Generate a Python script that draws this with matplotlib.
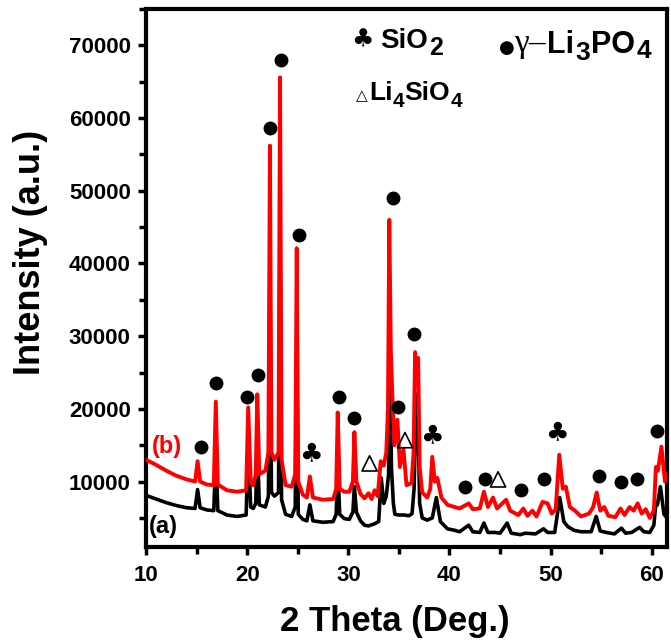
import matplotlib
matplotlib.use("Agg")
import matplotlib.pyplot as plt
from matplotlib.ticker import MultipleLocator

plt.rcParams['font.family'] = ['Liberation Sans', 'DejaVu Sans']
plt.rcParams['font.weight'] = 'bold'

# ---- data ----
theta_b = [10.0, 11.0, 12.0, 13.0, 14.0, 14.85, 15.1, 15.35, 16.0, 16.7, 16.9, 17.1, 18.0, 19.0, 19.9,
           20.1, 20.35, 20.6, 20.85, 21.0, 21.2, 21.8, 22.1, 22.25, 22.4, 22.7, 23.1, 23.25, 23.4,
           23.8, 24.4, 24.75, 24.9, 25.05, 25.5, 25.9, 26.2, 26.5, 27.5, 28.5, 28.8, 28.95, 29.15,
           29.6, 30.1, 30.45, 30.6, 30.8, 31.2, 31.6, 32.0, 32.3, 32.6, 32.9, 33.2, 33.5, 33.75,
           33.92, 34.05, 34.2, 34.35, 34.55, 34.85, 35.1, 35.45, 35.75, 36.25, 36.45, 36.6, 36.75,
           36.9, 37.05, 37.3, 37.8, 38.1, 38.3, 38.55, 38.8, 39.2, 39.8, 40.5, 41.0, 41.9, 42.3,
           43.0, 43.4, 43.8, 44.3, 44.7, 45.6, 46.0, 46.8, 47.3, 47.7, 48.2, 48.6, 49.2, 49.7, 50.1,
           50.5, 50.85, 51.2, 51.5, 51.9, 52.4, 53.0, 53.8, 54.2, 54.55, 54.9, 55.3, 55.7, 56.4,
           56.9, 57.3, 57.8, 58.2, 58.6, 59.0, 59.4, 59.8, 60.2, 60.4, 60.6, 60.95, 61.3, 61.5]
intensity_b = [13000, 12300, 11500, 10800, 10300, 10000, 12800, 10000, 9600, 9500, 21000, 9600, 8800, 8600, 8800,
               20200, 10000, 9500, 11000, 22000, 11000, 11500, 14000, 56200, 14000, 13000, 14000, 65600, 13000,
               9500, 9300, 11000, 42100, 10000, 8200, 7800, 10700, 7800, 7500, 7600, 9000, 19500, 9000,
               8600, 8600, 10000, 16800, 10000, 8300, 7700, 8400, 7600, 8800, 8000, 12800, 12200, 14000,
               20000, 46000, 28000, 22000, 15000, 18500, 12000, 14500, 9500, 9800, 14000, 27800, 24000,
               27000, 12000, 8500, 7800, 9000, 13400, 10000, 10500, 7800, 6800, 6500, 6300, 7000, 6200,
               6300, 8600, 6500, 7800, 6300, 7500, 6000, 5400, 6300, 5300, 6000, 5200, 7200, 7000, 5600,
               6200, 13700, 9000, 9300, 6500, 6000, 5200, 5600, 6500, 8500, 6000, 6500, 5300, 5100,
               6300, 5400, 6500, 6000, 7000, 5600, 6200, 5000, 6000, 12000, 11500, 14800, 10000, 11000]

theta_a = [10.0, 11.0, 12.0, 13.0, 14.0, 14.85, 15.1, 15.35, 16.0, 16.7, 16.9, 17.1, 18.0, 19.0, 19.9,
           20.1, 20.35, 20.6, 20.85, 21.0, 21.2, 21.8, 22.1, 22.25, 22.4, 22.7, 23.1, 23.25, 23.4,
           23.8, 24.4, 24.75, 24.9, 25.05, 25.5, 25.9, 26.2, 26.5, 27.5, 28.5, 28.8, 28.95, 29.15,
           29.6, 30.1, 30.45, 30.6, 30.8, 31.2, 31.6, 32.0, 32.6, 33.0, 33.25, 33.5, 33.75, 33.98,
           34.12, 34.26, 34.45, 34.6, 35.0, 35.5, 36.0, 36.3, 36.5, 36.72, 36.9, 37.05, 37.3, 37.8,
           38.3, 38.7, 39.1, 39.8, 40.5, 41.0, 41.9, 42.3, 43.0, 43.4, 43.8, 44.5, 45.0, 45.7, 46.1,
           47.0, 47.5, 48.5, 49.3, 49.7, 50.4, 50.9, 51.3, 51.7, 52.3, 53.0, 54.0, 54.5, 54.9, 55.5,
           56.3, 57.0, 57.4, 58.0, 58.8, 59.2, 59.8, 60.2, 60.4, 60.55, 60.85, 61.2, 61.5]
intensity_a = [8100, 7600, 7100, 6700, 6400, 6300, 8900, 6400, 6100, 6000, 14000, 6000, 5400, 5200, 5400,
               15000, 6500, 6300, 7000, 16000, 6800, 6500, 8000, 40000, 8500, 8000, 8500, 45000, 7500,
               5500, 5200, 6500, 28000, 5500, 4800, 4600, 6800, 4600, 4400, 4500, 5500, 12200, 5500,
               4900, 4800, 5800, 9300, 5800, 4600, 4000, 3900, 4200, 4500, 10500, 7000, 8000, 11000,
               29500, 12000, 7000, 5500, 5400, 5400, 5300, 5600, 9000, 22000, 18000, 7000, 5000, 4700,
               5000, 7800, 4500, 3500, 3300, 3100, 4000, 3100, 3000, 4300, 3000, 3000, 2900, 4300, 2900,
               2700, 2900, 2800, 3500, 3000, 3000, 7800, 4500, 3800, 3300, 3100, 3100, 5200, 3200, 3000,
               2800, 3600, 2900, 3000, 3700, 3100, 3000, 4000, 7000, 6800, 9300, 5500, 5000]

# phase markers
li3po4_x = [15.4, 16.9, 20.0, 21.1, 22.3, 23.3, 25.1, 29.1, 30.6, 34.4, 34.9, 36.5, 41.5, 43.5, 47.1,
            49.3, 54.8, 57.0, 58.5, 60.5]
li3po4_y = [14700, 23500, 21700, 24600, 58700, 68000, 43900, 21700, 18800, 49000, 20300, 30300, 9300,
            10400, 8800, 10300, 10800, 9900, 10300, 16900]
sio2_x = [26.3, 38.3, 50.6]
sio2_y = [13700, 16200, 16600]
li4sio4_x = [32.1, 35.6, 44.8]
li4sio4_y = [12500, 15700, 10300]

x_ticks = [10, 20, 30, 40, 50, 60]
y_ticks = [10000, 20000, 30000, 40000, 50000, 60000, 70000]

# ---- figure ----
W, H = 671, 644
fig = plt.figure(figsize=(W / 100, H / 100), dpi=100)
ax = fig.add_axes([146 / W, (H - 547) / H, (667 - 146) / W, (547 - 9) / H])

ax.plot(theta_a, intensity_a, color='black', lw=2.6, zorder=2, solid_joinstyle='round')
ax.plot(theta_b, intensity_b, color='#ff0000', lw=2.8, zorder=3, solid_joinstyle='round')

ax.scatter(li3po4_x, li3po4_y, s=100, color='black', zorder=4, linewidths=0)
ax.scatter(li4sio4_x, li4sio4_y, s=120, marker='^', facecolors='none', edgecolors='black',
           linewidths=1.2, zorder=4)
for x, y in zip(sio2_x, sio2_y):
    ax.text(x, y, '\u2663', family='DejaVu Sans', fontsize=19, ha='center', va='center', zorder=4)

ax.set_xlim(10, 61.5)
ax.set_ylim(1000, 75000)
ax.set_xticks(x_ticks)
ax.set_yticks(y_ticks)
ax.xaxis.set_minor_locator(MultipleLocator(5))
ax.yaxis.set_minor_locator(MultipleLocator(5000))
ax.tick_params(which='major', direction='out', length=6, width=2.5, labelsize=16, pad=5)
ax.tick_params(which='minor', direction='out', length=5, width=2.5)
ax.tick_params(axis='x', which='major', pad=7)
for lab in ax.get_xticklabels() + ax.get_yticklabels():
    lab.set_fontweight('bold')
for sp in ax.spines.values():
    sp.set_linewidth(3.0)

ax.set_xlabel('2 Theta (Deg.)', fontsize=25, fontweight='bold')
ax.set_ylabel('Intensity (a.u.)', fontsize=26, fontweight='bold')
ax.xaxis.set_label_coords((395 - 146) / 521, (547 - 605) / 538)
ax.yaxis.set_label_coords((48 - 146) / 521, (547 - 252) / 538)

# curve labels
fig.text(152 / W, 1 - 447 / H, '(b)', color='#ff0000', fontsize=17,
         fontweight='bold', ha='left', va='center')
fig.text(149 / W, 1 - 527 / H, '(a)', color='black', fontsize=17,
         fontweight='bold', ha='left', va='center')

# legend texts: pieces chained left to right from measured starting pixels
renderer = fig.canvas.get_renderer()


def chain(px, base_py, pieces):
    x = px
    for s, size, dy, gap, kw in pieces:
        t = fig.text(x / W, 1 - (base_py + dy) / H, s, fontsize=size, ha='left', va='baseline', **kw)
        x += t.get_window_extent(renderer).width + gap


fig.text(362 / W, 1 - 40 / H, '\u2663', family='DejaVu Sans', fontsize=18, ha='center', va='center')
chain(380, 48, [('SiO', 20, 0, 1, dict(fontweight='bold')),
                ('2', 18, 7, 0, dict(fontweight='bold'))])

fig.text(507 / W, 1 - 48 / H, '\u25CF', family='DejaVu Sans', fontsize=13, ha='center', va='center')
chain(514, 52, [('\u03B3', 24, 0, 0, dict(family='Liberation Serif', fontweight='normal')),
                ('\u2013', 24, 0, 0, dict(family='Liberation Serif', fontweight='normal'))])
chain(547, 53, [('Li', 22, 0, 1, dict(fontweight='bold')),
                ('3', 19, 7, 1, dict(fontweight='bold')),
                ('PO', 22, 0, 2, dict(fontweight='bold')),
                ('4', 19, 5, 0, dict(fontweight='bold'))])

fig.text(362 / W, 1 - 96 / H, '\u25B3', family='DejaVu Sans', fontsize=11, ha='center', va='center')
chain(369, 100, [('Li', 19, 0, 0, dict(fontweight='bold')),
                 ('4', 15, 7, 0, dict(fontweight='bold')),
                 ('SiO', 19, 0, 1, dict(fontweight='bold')),
                 ('4', 15, 7, 0, dict(fontweight='bold'))])

fig.savefig('out.png', dpi=100)
